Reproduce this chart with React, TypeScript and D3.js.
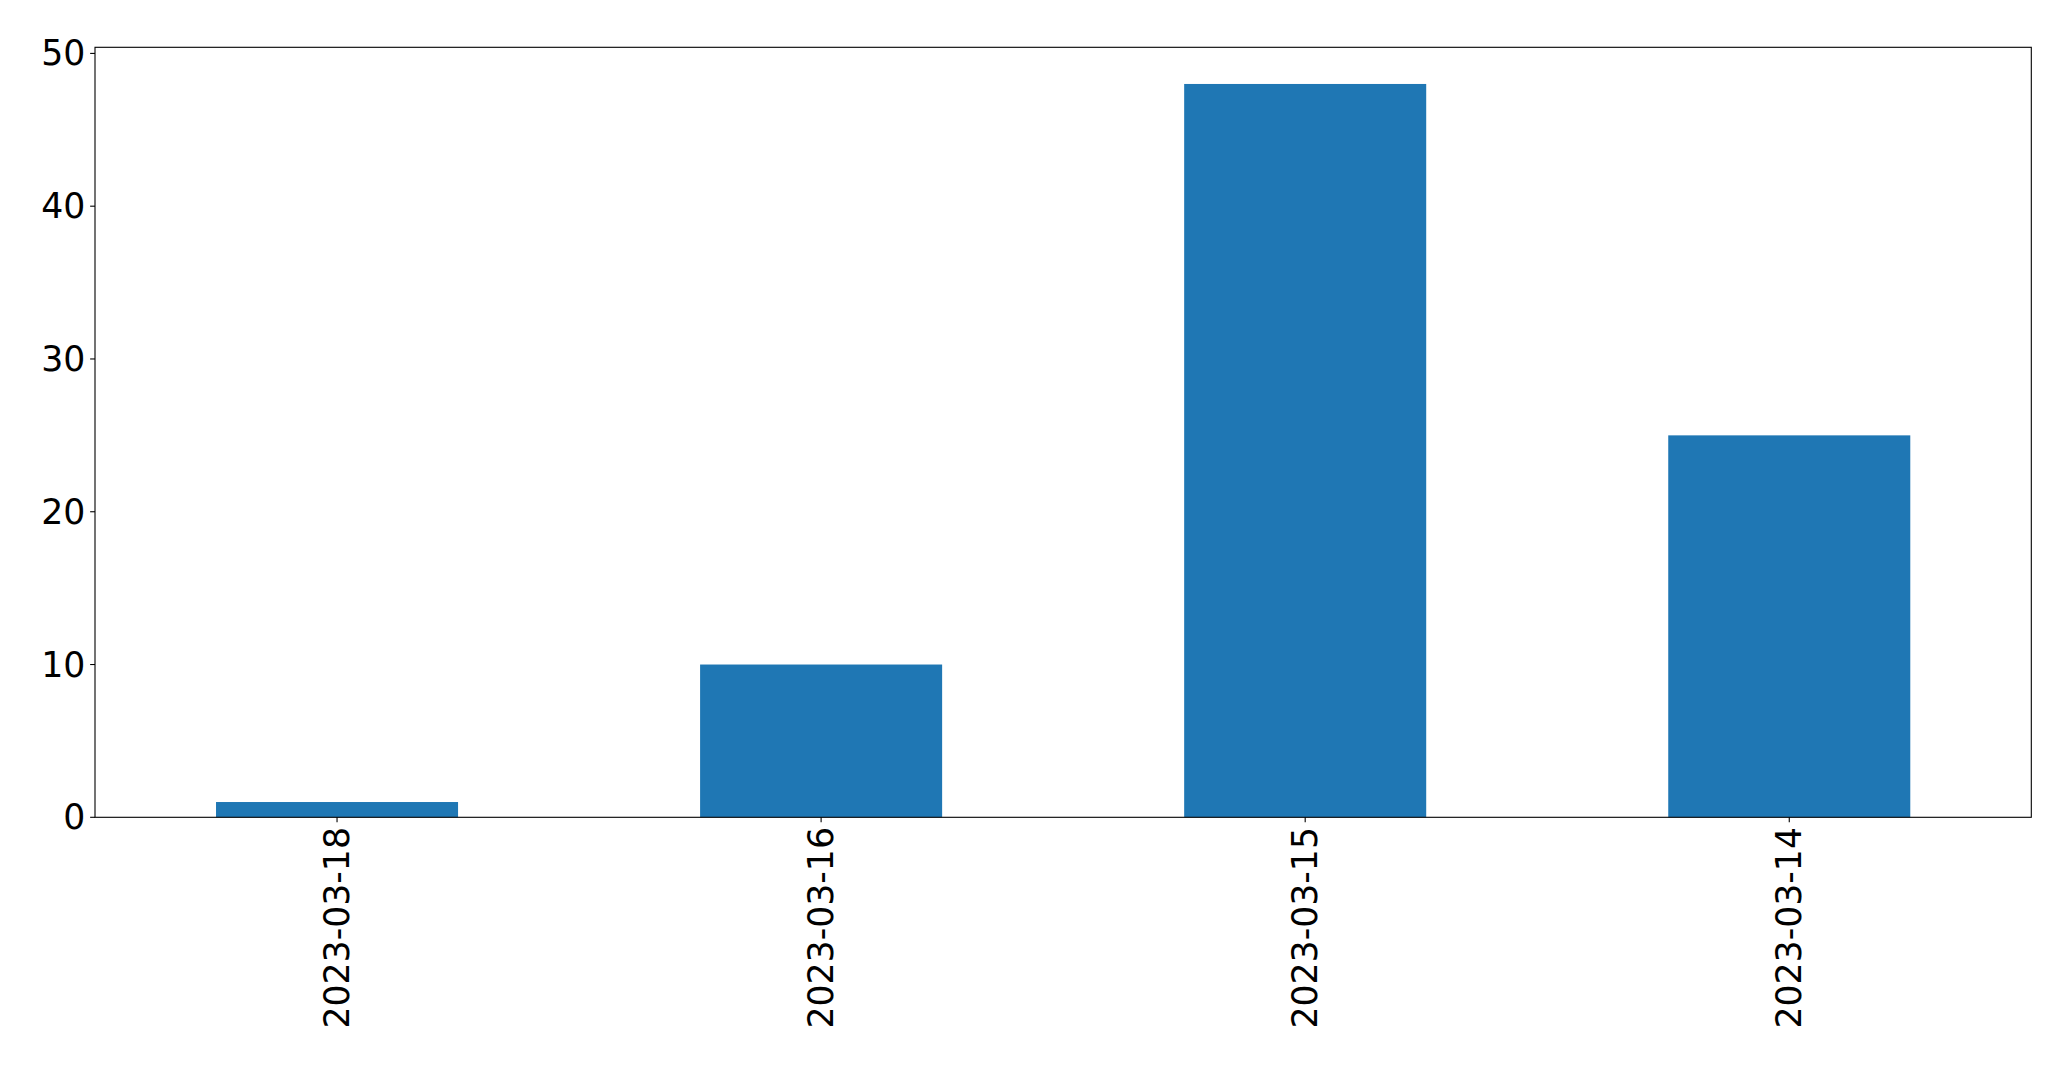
import React, { useEffect, useRef } from "react";
import * as d3 from "d3";

const categories = ["2023-03-18", "2023-03-16", "2023-03-15", "2023-03-14"];
const values = [1, 10, 48, 25];
const yTicks = [0, 10, 20, 30, 40, 50];

const W = 2071;
const H = 1069;
const M = { left: 95, right: 2031.3, top: 47.3, bottom: 817.3 };
const FONT = "'DejaVu Sans', sans-serif";
const FS = 34.7;

export default function App() {
  const ref = useRef<SVGSVGElement | null>(null);
  useEffect(() => {
    const svg = d3.select(ref.current);
    svg.selectAll("*").remove();
    const x = d3
      .scaleBand<string>()
      .domain(categories)
      .range([M.left, M.right])
      .paddingInner(0.5)
      .paddingOuter(0.25);
    const yMax = d3.max(values)! * 1.05;
    const y = d3.scaleLinear().domain([0, yMax]).range([M.bottom, M.top]);

    svg
      .append("g")
      .selectAll("rect")
      .data(values)
      .join("rect")
      .attr("x", (_, i) => x(categories[i])!)
      .attr("width", x.bandwidth())
      .attr("y", (d) => y(d))
      .attr("height", (d) => y(0) - y(d))
      .attr("fill", "#1f77b4");

    const tickLen = 4.86;
    const pad = 4.86;
    const yg = svg.append("g");
    yTicks.forEach((t) => {
      yg.append("line")
        .attr("x1", M.left - tickLen)
        .attr("x2", M.left)
        .attr("y1", y(t))
        .attr("y2", y(t))
        .attr("stroke", "#000")
        .attr("stroke-width", 1.1);
      yg.append("text")
        .attr("x", M.left - tickLen - pad)
        .attr("y", y(t))
        .attr("text-anchor", "end")
        .attr("dominant-baseline", "central")
        .attr("font-family", FONT)
        .attr("font-size", FS)
        .attr("fill", "#000")
        .text(String(t));
    });

    const xg = svg.append("g");
    categories.forEach((c) => {
      const cx = x(c)! + x.bandwidth() / 2;
      xg.append("line")
        .attr("x1", cx)
        .attr("x2", cx)
        .attr("y1", M.bottom)
        .attr("y2", M.bottom + tickLen)
        .attr("stroke", "#000")
        .attr("stroke-width", 1.1);
      xg.append("text")
        .attr("transform", `translate(${cx},${M.bottom + tickLen + pad}) rotate(-90)`)
        .attr("text-anchor", "end")
        .attr("dominant-baseline", "central")
        .attr("font-family", FONT)
        .attr("font-size", FS)
        .attr("fill", "#000")
        .text(c);
    });

    svg
      .append("rect")
      .attr("x", M.left)
      .attr("y", M.top)
      .attr("width", M.right - M.left)
      .attr("height", M.bottom - M.top)
      .attr("fill", "none")
      .attr("stroke", "#000")
      .attr("stroke-width", 1.1);
  }, []);

  return (
    <svg
      ref={ref}
      width={W}
      height={H}
      style={{ position: "absolute", left: 0, top: 0, background: "#fff" }}
    />
  );
}
